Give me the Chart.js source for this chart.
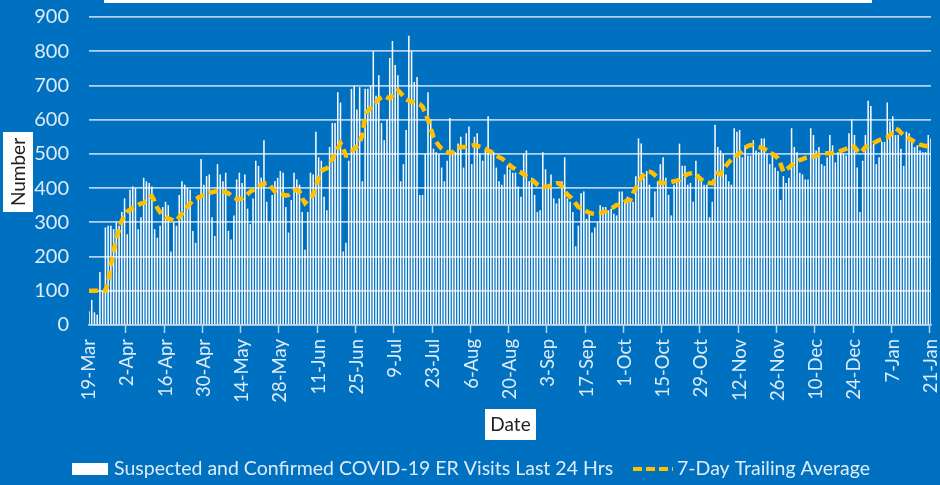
<!DOCTYPE html>
<html>
<head>
<meta charset="utf-8">
<script src="https://cdn.jsdelivr.net/npm/chart.js@4.4.1/dist/chart.umd.min.js"></script>
<style>
  html, body { margin: 0; padding: 0; background: #0070C0; }
  #wrap { width: 940px; height: 485px; }
</style>
</head>
<body>
<div id="wrap"><canvas id="c" width="940" height="485"></canvas></div>
<script>
// ---- Data ----
const startDate = [2020, 2, 19]; // 19-Mar-2020, one bar per day
const dayCount = 309;            // 19-Mar .. 21-Jan
const tickLabels = ['19-Mar','2-Apr','16-Apr','30-Apr','14-May','28-May','11-Jun','25-Jun','9-Jul','23-Jul','6-Aug','20-Aug','3-Sep','17-Sep','1-Oct','15-Oct','29-Oct','12-Nov','26-Nov','10-Dec','24-Dec','7-Jan','21-Jan'];
const yTicks = [0,100,200,300,400,500,600,700,800,900];

const erVisits = [
  40,73,37,30,155,100,285,290,290,280,
  300,290,330,370,265,395,405,400,280,315,
  430,420,415,405,280,255,290,345,360,350,
  215,300,290,380,420,410,400,395,275,240,
  380,485,410,435,440,315,260,470,440,420,
  445,275,250,320,425,445,415,440,340,295,
  370,480,465,430,540,360,300,380,420,430,
  450,445,345,270,365,445,425,410,330,220,
  330,445,440,565,490,480,375,335,520,590,
  590,680,650,215,240,480,690,700,630,695,
  420,690,690,700,800,670,730,590,540,600,
  780,830,760,730,420,470,570,845,800,710,
  725,380,380,500,680,600,515,505,500,460,
  420,480,605,510,505,530,550,460,560,580,
  470,550,560,500,480,510,610,500,505,460,
  420,410,440,465,455,445,445,405,375,500,
  510,420,430,380,330,335,505,455,400,440,
  370,355,370,420,490,370,360,330,230,290,
  385,390,310,330,270,285,300,350,345,345,
  335,340,325,320,390,390,365,375,360,360,
  435,545,530,430,450,410,315,390,420,470,
  490,430,380,320,410,415,530,465,465,410,
  415,360,480,440,430,410,410,315,360,585,
  520,510,500,440,420,410,575,565,570,490,
  525,495,495,540,510,505,545,545,500,470,
  500,460,450,365,435,415,430,575,520,505,
  445,440,425,425,575,555,510,520,470,465,
  490,555,525,475,505,510,500,495,560,600,
  555,460,330,480,555,655,640,530,470,490,
  535,535,650,595,610,555,555,515,465,565,
  560,535,520,525,510,505,505,555,545
];

const trailingAvg = [
  100,100,100,100,100,100,100,125,175,215,
  250,280,305,320,332,337,342,347,351,355,
  357,364,374,377,362,342,330,320,315,312,
  308,305,305,315,325,333,345,355,365,368,
  372,376,380,383,386,388,390,391,391,390,
  388,385,378,372,368,368,370,375,382,390,
  394,400,405,410,413,415,410,400,390,385,
  385,382,378,380,386,392,395,390,370,356,
  365,372,380,405,430,450,455,458,470,485,
  500,516,531,515,495,495,505,515,522,535,
  555,609,625,635,643,650,660,665,669,665,
  662,670,680,686,678,668,660,655,652,650,
  648,645,638,620,599,575,550,535,524,515,
  508,505,502,505,512,518,520,520,521,523,
  524,526,524,521,519,515,510,506,502,495,
  490,487,480,475,466,460,455,450,446,440,
  435,430,424,418,410,404,404,404,405,408,
  412,414,414,405,395,380,375,365,355,345,
  341,336,332,328,326,325,326,327,329,331,
  335,340,345,351,351,355,360,365,365,385,
  400,414,430,440,448,448,445,438,430,415,
  415,416,418,418,420,422,424,430,436,441,
  443,445,440,432,425,420,418,415,414,425,
  443,440,455,465,475,484,490,495,502,510,
  518,523,526,525,522,520,518,515,510,502,
  500,495,487,470,448,455,460,467,472,478,
  482,485,488,490,491,492,495,498,500,501,
  502,502,502,504,506,509,512,515,518,523,
  520,510,502,510,520,523,528,532,536,540,
  543,546,548,555,565,574,570,562,555,549,
  545,540,535,530,527,525,523,523,523
];

const seriesNames = ['Suspected and Confirmed COVID-19 ER Visits Last 24 Hrs', '7-Day Trailing Average'];
const axisTitles = { x: 'Date', y: 'Number' };

// ---- Categories: one label per day ----
const MONTHS = ['Jan','Feb','Mar','Apr','May','Jun','Jul','Aug','Sep','Oct','Nov','Dec'];
const categories = [];
for (let i = 0; i < dayCount; i++) {
  const d = new Date(Date.UTC(startDate[0], startDate[1], startDate[2] + i));
  categories.push(d.getUTCDate() + '-' + MONTHS[d.getUTCMonth()]);
}

// ---- Styles ----
const BG = '#0070C0';
const TXT = '#DDEBF7';
const GRID = 'rgba(189,215,238,0.95)';
const YELLOW = '#FFC000';
const FONT = 'Lato, "Open Sans", sans-serif';

const decorPlugin = {
  id: 'decor',
  beforeDraw(chart) {
    const c = chart.ctx;
    c.save();
    c.fillStyle = BG;
    c.fillRect(0, 0, chart.width, chart.height);
    c.fillStyle = '#FFFFFF';
    c.fillRect(104, 0, 768, 3);
    c.restore();
  },
  afterDraw(chart) {
    const c = chart.ctx;
    c.save();
    // Y axis title box
    c.fillStyle = '#FFFFFF';
    c.fillRect(3, 132, 30, 80);
    c.translate(18, 172);
    c.rotate(-Math.PI / 2);
    c.fillStyle = '#1F1F1F';
    c.font = '19px ' + FONT;
    c.textAlign = 'center';
    c.textBaseline = 'middle';
    c.fillText(axisTitles.y, 0, 1);
    c.restore();

    c.save();
    // X axis title box
    c.fillStyle = '#FFFFFF';
    c.fillRect(485, 409, 51, 31);
    c.fillStyle = '#1F1F1F';
    c.font = '19px ' + FONT;
    c.textAlign = 'center';
    c.textBaseline = 'middle';
    c.fillText(axisTitles.x, 510.5, 425);

    // Legend
    c.fillStyle = '#FFFFFF';
    c.fillRect(72, 463, 36, 12);
    c.fillStyle = TXT;
    c.font = '19.5px ' + FONT;
    c.textAlign = 'left';
    c.fillText(seriesNames[0], 114, 469);
    c.strokeStyle = YELLOW;
    c.lineWidth = 4;
    c.setLineDash([9, 4]);
    c.beginPath();
    c.moveTo(633, 469);
    c.lineTo(673, 469);
    c.stroke();
    c.setLineDash([]);
    c.fillText(seriesNames[1], 677, 469);
    c.restore();
  }
};

new Chart(document.getElementById('c'), {
  data: {
    labels: categories,
    datasets: [
      {
        type: 'line',
        label: seriesNames[1],
        data: trailingAvg,
        borderColor: YELLOW,
        borderWidth: 4.5,
        borderDash: [9, 5],
        pointRadius: 0,
        tension: 0,
        order: 0
      },
      {
        type: 'bar',
        label: seriesNames[0],
        data: erVisits,
        backgroundColor: '#FFFFFF',
        borderWidth: 0,
        barPercentage: 0.55,
        categoryPercentage: 1.0,
        order: 1
      }
    ]
  },
  options: {
    responsive: false,
    animation: false,
    devicePixelRatio: 1,
    layout: { padding: { top: 17, left: 0, right: 9, bottom: 0 } },
    plugins: {
      legend: { display: false },
      tooltip: { enabled: false }
    },
    scales: {
      x: {
        type: 'category',
        offset: false,
        afterFit(scale) {
          scale.height = 160;
          scale.paddingLeft = 0;
          scale.paddingRight = 0;
        },
        grid: {
          display: true,
          drawOnChartArea: false,
          drawTicks: true,
          tickLength: 8,
          tickWidth: 1.5,
          tickColor: (ctx) => (ctx.index % 14 === 0 ? GRID : 'rgba(0,0,0,0)')
        },
        border: { display: true, color: GRID, width: 1.5 },
        ticks: {
          autoSkip: false,
          maxRotation: 90,
          minRotation: 90,
          padding: 6,
          color: TXT,
          font: { family: FONT, size: 18.5 },
          callback: (val, idx) => (idx % 14 === 0 ? tickLabels[idx / 14] : '')
        }
      },
      y: {
        min: 0,
        max: 900,
        afterFit(scale) {
          scale.width = 89;
          scale.paddingTop = 0;
          scale.paddingBottom = 0;
        },
        afterBuildTicks(scale) { scale.ticks = yTicks.map(v => ({ value: v })); },
        grid: { color: GRID, lineWidth: 1.8, drawTicks: false },
        border: { display: false },
        ticks: {
          padding: 20,
          color: TXT,
          font: { family: FONT, size: 20 }
        }
      }
    }
  },
  plugins: [decorPlugin]
});
</script>
</body>
</html>
